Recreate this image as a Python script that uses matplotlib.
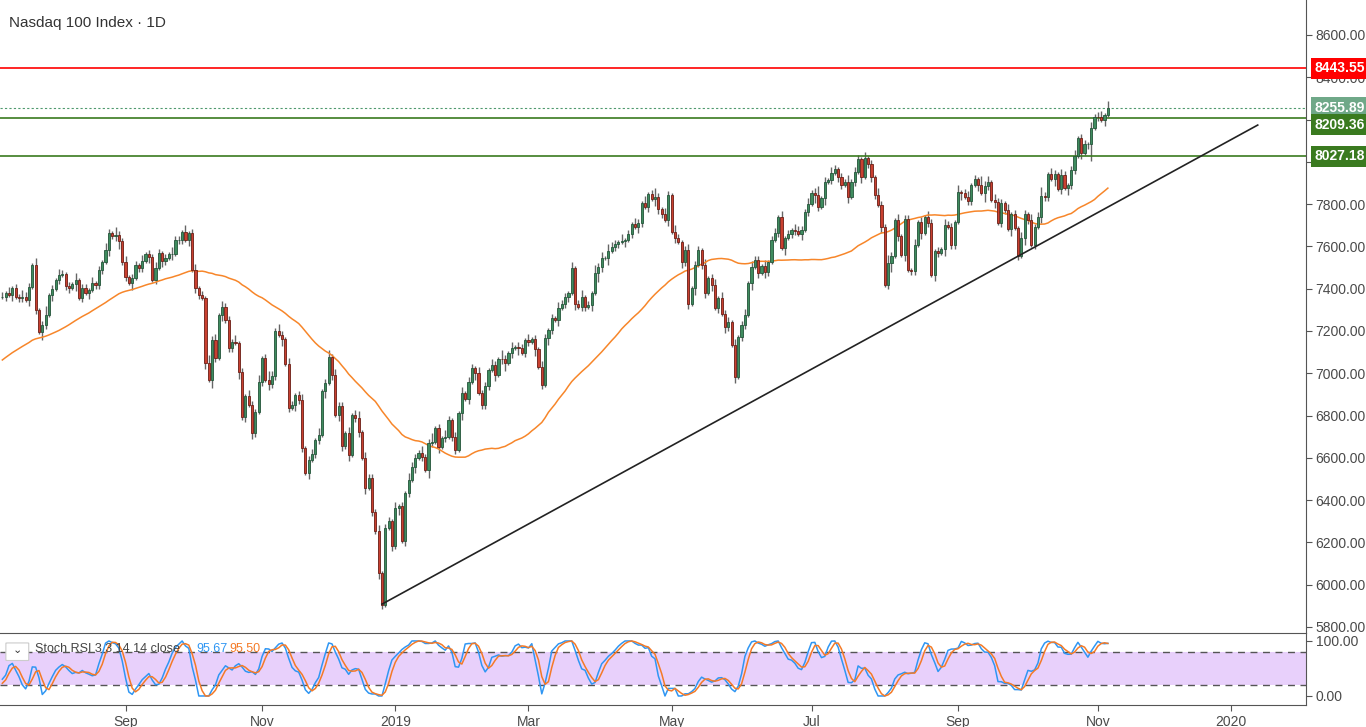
import numpy as np
import pandas as pd
import matplotlib.pyplot as plt
from matplotlib.patches import FancyBboxPatch
from pandas.tseries.holiday import USFederalHolidayCalendar
from pandas.tseries.offsets import CustomBusinessDay

plt.rcParams['font.family'] = ['Liberation Sans', 'DejaVu Sans']

# daily closes, Nasdaq 100, starting 2018-07-12
pre_close = [6780, 6810, 6830, 6870, 6880, 6860, 6900, 6930, 6960, 6980,
             7000, 7030, 7050, 7070, 7060, 7080, 7100, 7040, 6980, 6930,
             6900, 6940, 6880, 6930, 6960, 6980, 6910, 6940, 7000, 7060,
             7080, 7110, 7130, 7110, 7160, 7180, 7200, 7230, 7250, 7260,
             7270, 7240, 7280, 7310, 7260, 7240, 7270, 7300, 7260]
close = [7363, 7379, 7371, 7402, 7363, 7355, 7363, 7347, 7407, 7513,
         7300, 7197, 7229, 7276, 7371, 7398, 7442, 7465, 7470, 7413,
         7402, 7420, 7442, 7355, 7402, 7379, 7395, 7426, 7418, 7489, 7528,
         7584, 7662, 7647, 7654, 7628, 7524, 7457, 7426, 7450, 7510,
         7497, 7530, 7563, 7552, 7442, 7497, 7568, 7532, 7544, 7565,
         7565, 7631, 7631, 7670, 7631, 7662, 7489, 7402, 7371, 7355,
         7048, 6969, 7158, 7071, 7276, 7312, 7250, 7119, 7150, 7145, 7004,
         6791, 6893, 6851, 6717, 6819, 6961, 7071, 6969, 6949, 6989,
         7202, 7180, 7161, 7043, 6835, 6850, 6898, 6874, 6646, 6530, 6590,
         6620, 6685, 6709, 6914, 6953, 7079, 6990, 6804, 6843, 6654, 6717,
         6614, 6804, 6790, 6720, 6599, 6457, 6504, 6346, 6252, 6055, 5905,
         6268, 6299, 6181, 6362, 6370, 6205,
         6433, 6496, 6559, 6598, 6625, 6606, 6543, 6669,
         6677, 6740, 6653, 6693, 6700, 6779, 6700, 6637, 6811,
         6905, 6877, 6961, 7024, 7000, 6909, 6850, 6940, 7016, 7039,
         6992, 7068, 7066, 7050, 7094, 7118, 7126, 7118, 7098,
         7158, 7150, 7161, 7113, 7028, 6945, 7165, 7205, 7260, 7252,
         7307, 7328, 7359, 7378, 7496, 7328, 7315, 7362, 7315, 7323,
         7378, 7473, 7501, 7544, 7544, 7580, 7599, 7611, 7622,
         7627, 7630, 7659, 7706, 7693, 7712, 7807, 7785, 7848, 7823,
         7835, 7775, 7753, 7725, 7843, 7670, 7638, 7622, 7528, 7583,
         7326, 7402, 7512, 7583, 7512, 7378, 7449, 7418, 7307, 7355,
         7279, 7221, 7244, 7134, 6984, 7173, 7228, 7276, 7425, 7501,
         7536, 7473, 7507, 7481, 7528, 7630, 7665, 7737, 7591, 7640,
         7659, 7678, 7675, 7660, 7678, 7765, 7799, 7855, 7845, 7788,
         7828, 7907, 7915, 7946, 7965, 7927, 7891, 7907, 7836, 7907,
         7954, 8012, 7930, 8017, 7990, 7927, 7844, 7796, 7694, 7418,
         7520, 7555, 7725, 7647, 7560, 7728, 7489, 7486, 7607, 7717,
         7665, 7738, 7710, 7465, 7576, 7568, 7587, 7702, 7691, 7607,
         7717, 7859, 7851, 7833, 7815, 7891, 7918, 7891, 7851, 7888,
         7903, 7820, 7810, 7710, 7804, 7773, 7681, 7754, 7686,
         7555, 7639, 7752, 7725, 7607, 7694, 7741, 7839, 7836, 7941,
         7918, 7943, 7870, 7938, 7875, 7891, 7962, 8028, 8111, 8044,
         8083, 8083, 8159, 8214, 8211, 8198, 8222, 8256]
# wick lengths in tens of points (upper, lower)
wick_hi = "2131213221312412132121312213121321421312213121321213221312" \
          "3121423132213121321312421321321231221312313221312313221312" \
          "2131213221312412132121312213121321421312213121321213221312" \
          "3121423132213121321312421321321231221312313221312313221312" \
          "2131213221312412132121312213121321421312213121321213221312" \
          "312142313221312132131242132132123122131231322131"
wick_lo = "1213122131214213121221312131222131241213122131213213122131" \
          "2213142131221312132121322131213221312213121321312213121321" \
          "1213122131214213121221312131222131241213122131213213122131" \
          "2213142131221312132121322131213221312213121321312213121321" \
          "1213122131214213121221312131222131241213122131213213122131" \
          "221314213122131213212132213121322131281213122131"

start_date = "2018-07-12"
n_future = 60
month_labels = {(2018, 9): "Sep", (2018, 11): "Nov", (2019, 1): "2019", (2019, 3): "Mar",
                (2019, 5): "May", (2019, 7): "Jul", (2019, 9): "Sep", (2019, 11): "Nov",
                (2020, 1): "2020"}

res_red = 8443.55
res_green = [8209.36, 8027.18]
last_price = 8255.89
trend_pts = [(114, 5908), (377, 8174)]

# ---- derived series
allc = pd.Series(pre_close + close, dtype=float)
ma = allc.rolling(50).mean().iloc[len(pre_close):].values
d = allc.diff()
up = d.clip(lower=0).ewm(alpha=1/14, adjust=False).mean()
dn = (-d.clip(upper=0)).ewm(alpha=1/14, adjust=False).mean()
rsi = 100 - 100/(1 + up/dn)
st = (rsi - rsi.rolling(14).min())/(rsi.rolling(14).max() - rsi.rolling(14).min())*100
k = st.rolling(3).mean()
dd = k.rolling(3).mean()
k = k.iloc[len(pre_close):].values
dd = dd.iloc[len(pre_close):].values

n = len(close)
c = np.array(close, float)
o = np.r_[c[0], c[:-1]]
hi = np.maximum(o, c) + np.array([int(ch) for ch in wick_hi[:n]])*10
lo = np.minimum(o, c) - np.array([int(ch) for ch in wick_lo[:n]])*10
x = np.arange(n)

cbd = CustomBusinessDay(calendar=USFederalHolidayCalendar())
dates = pd.date_range(start_date, periods=n + n_future, freq=cbd)

W, H = 1366, 727
fig = plt.figure(figsize=(W/100, H/100), dpi=100)
ax = fig.add_axes([0, 1 - 633/H, 1306/W, 633/H])
ax2 = fig.add_axes([0, 1 - 705/H, 1306/W, 72/H])

for a in (ax, ax2):
    a.set_xlim(-0.7, 391.5)
    a.yaxis.tick_right()
    for s in ("top", "left"):
        a.spines[s].set_visible(False)
    a.spines["right"].set_color("#555555")
    a.spines["bottom"].set_color("#555555")
    a.tick_params(colors="#555555", labelcolor="#4a4a4a", labelsize=10, length=4, pad=3)

# candles
up_m = c >= o
ax.vlines(x, lo, hi, color="#666666", lw=1, zorder=2)
ax.bar(x[up_m], (c - o)[up_m], bottom=o[up_m], width=0.65, color="#3f8c5f", edgecolor="#24553a", lw=0.6, zorder=3)
ax.bar(x[~up_m], (o - c)[~up_m], bottom=c[~up_m], width=0.65, color="#c94030", edgecolor="#6b1e16", lw=0.6, zorder=3)
ax.plot(x, ma, color="#f7862a", lw=1.1, zorder=2)

ax.axhline(res_red, color="#ff0000", lw=1.2)
for v in res_green:
    ax.axhline(v, color="#3a7a1f", lw=1.2)
ax.axhline(last_price, color="#4f9a6e", lw=0.8, ls=(0, (2, 2)))
(tx0, ty0), (tx1, ty1) = trend_pts
ax.plot([tx0, tx1], [ty0, ty1], color="#222222", lw=1.2, zorder=4)

ax.set_ylim(5771.6, 8765.5)
ax.set_yticks(np.arange(5800, 8601, 200))
ax.set_yticklabels([f"{v:.2f}" for v in np.arange(5800, 8601, 200)])
ax.set_xticks([])
ax.spines["bottom"].set_visible(False)

def tag(a, y, txt, col, dy=0):
    a.annotate(txt, xy=(1, y), xycoords=("axes fraction", "data"), xytext=(6, dy),
               textcoords="offset points", va="center", ha="left", fontsize=10,
               color="white", fontweight="bold",
               bbox=dict(boxstyle="square,pad=0.25", fc=col, ec="none"), zorder=10,
               annotation_clip=False)

tag(ax, res_red, f"{res_red:.2f}", "#ff0000")
tag(ax, last_price, f"{last_price:.2f}", "#6fa888")
tag(ax, res_green[0], f"{res_green[0]:.2f}", "#3a7a1f", dy=-5)
tag(ax, res_green[1], f"{res_green[1]:.2f}", "#3a7a1f")

ax.text(0.007, 0.975, "Nasdaq 100 Index · 1D", transform=ax.transAxes, fontsize=11,
        color="#333333", va="top")

# stoch rsi panel
ax2.axhspan(20, 80, color="#e8d0fb", lw=0)
ax2.axhline(80, color="#555555", lw=1, ls=(0, (5, 4)))
ax2.axhline(20, color="#555555", lw=1, ls=(0, (5, 4)))
ax2.plot(x, k, color="#2f96f3", lw=1.1)
ax2.plot(x, dd, color="#f47a27", lw=1.1)
ax2.set_ylim(-16.4, 114.5)
ax2.set_yticks([0, 100])
ax2.set_yticklabels(["0.00", "100.00"])
ax2.spines["top"].set_visible(True)
ax2.spines["top"].set_color("#555555")
ax2.add_patch(FancyBboxPatch((0.0065, 0.62), 0.0135, 0.24, boxstyle="round,pad=0.002",
                             transform=ax2.transAxes, fc="white", ec="#cccccc", lw=0.8, zorder=5))
ax2.text(0.0133, 0.76, "⌄", transform=ax2.transAxes, fontsize=8, ha="center", va="center",
         color="#333333", zorder=6, family=["DejaVu Sans"])
ax2.text(0.027, 0.78, "Stoch RSI 3 3 14 14 close", transform=ax2.transAxes, fontsize=9,
         color="#444444", va="center")
ax2.text(0.150, 0.78, f"{k[-1]:.2f}", transform=ax2.transAxes, fontsize=9, color="#2f96f3", va="center")
ax2.text(0.1755, 0.78, f"{dd[-1]:.2f}", transform=ax2.transAxes, fontsize=9, color="#f47a27", va="center")

tick_pos, tick_lab = [], []
for (yy, mm), lab in month_labels.items():
    idx = np.where((dates.year == yy) & (dates.month == mm))[0]
    if len(idx):
        tick_pos.append(idx[0])
        tick_lab.append(lab)
ax2.set_xticks(tick_pos)
ax2.set_xticklabels(tick_lab)

fig.savefig("out.png", dpi=100)
